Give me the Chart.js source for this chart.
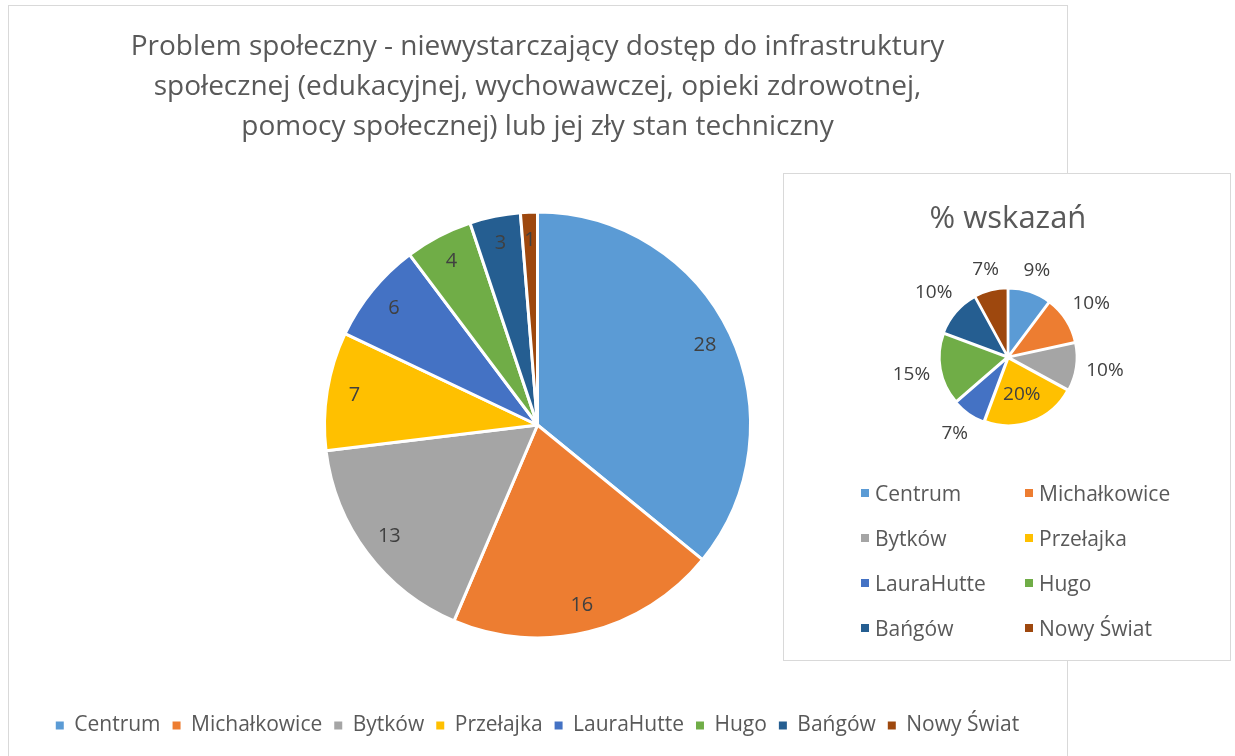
<!DOCTYPE html>
<html lang="pl">
<head>
<meta charset="utf-8">
<title>Problem społeczny</title>
<script src="https://cdn.jsdelivr.net/npm/chart.js@4/dist/chart.umd.min.js"></script>
<style>
    html, body {
        margin: 0;
        padding: 0;
        background: #fff;
        width: 1235px;
        height: 756px;
        overflow: hidden;
        font-family: "Open Sans", sans-serif;
    }
    .main-box {
        position: absolute;
        left: 8px;
        top: 5px;
        width: 1058px;
        height: 800px;
        border: 1px solid #d9d9d9;
        background: #fff;
    }
    .main-box canvas {
        position: absolute;
        left: 0;
        top: 0;
    }
    .share-box {
        position: absolute;
        left: 783px;
        top: 173px;
        width: 446px;
        height: 486px;
        border: 1px solid #d9d9d9;
        background: #fff;
    }
    .share-box canvas {
        position: absolute;
        left: 0;
        top: 0;
    }
    .share-legend {
        position: absolute;
        left: 77px;
        top: 296px;
        display: grid;
        grid-template-columns: 164px 164px;
        grid-auto-rows: 45px;
        font-size: 21px;
        color: #595959;
    }
    .share-legend span {
        display: flex;
        align-items: center;
        white-space: nowrap;
    }
    .share-legend i {
        display: inline-block;
        width: 8px;
        height: 8px;
        margin-right: 6px;
    }
</style>
</head>
<body>

<div class="main-box">
    <canvas id="count-chart" width="1057" height="750"></canvas>
</div>

<div class="share-box">
    <canvas id="share-chart" width="446" height="486"></canvas>
    <div class="share-legend" id="share-legend"></div>
</div>

<script>
'use strict';

// Districts (same order in both charts)
const districts = ['Centrum', 'Michałkowice', 'Bytków', 'Przełajka', 'LauraHutte', 'Hugo', 'Bańgów', 'Nowy Świat'];

// Number of answers per district
const answerCounts = [28, 16, 13, 7, 6, 4, 3, 1];

// "% wskazań" per district, as printed on the small chart
const sharePercents = [9, 10, 10, 20, 7, 15, 10, 7];

const mainTitle = [
    'Problem społeczny - niewystarczający dostęp do infrastruktury',
    'społecznej (edukacyjnej, wychowawczej, opieki zdrowotnej,',
    'pomocy społecznej) lub jej zły stan techniczny'
];
const shareTitle = '% wskazań';

// Office palette
const sliceColors = ['#5B9BD5', '#ED7D31', '#A5A5A5', '#FFC000', '#4472C4', '#70AD47', '#255E91', '#9E480E'];

const FONT = '"Open Sans", sans-serif';

// Draws the value of each slice, inside or just outside the slice
const sliceLabels = {
    id: 'sliceLabels',
    afterDatasetsDraw: function(chart, args, opts) {
        const meta = chart.getDatasetMeta(0);
        const values = chart.data.datasets[0].data;
        const maxValue = Math.max.apply(null, values);
        const ctx = chart.ctx;

        ctx.save();
        ctx.font = opts.size + 'px ' + FONT;
        ctx.fillStyle = opts.color;
        ctx.textAlign = 'center';
        ctx.textBaseline = 'middle';

        meta.data.forEach(function(arc, i) {
            const p = arc.getProps(['x', 'y', 'startAngle', 'endAngle', 'outerRadius'], true);
            const mid = (p.startAngle + p.endAngle) / 2;
            const text = opts.format(values[i]);
            const outer = p.outerRadius + (opts.offset || 0);
            let dist;

            if (opts.position === 'inside') {
                dist = outer * opts.insideRatio;
            } else if (values[i] === maxValue) {
                // the biggest slice keeps its label inside
                dist = outer * opts.insideRatio;
            } else {
                const w = ctx.measureText(text).width;
                dist = outer + opts.gap +
                    Math.abs(Math.cos(mid)) * w / 2 +
                    Math.abs(Math.sin(mid)) * opts.size / 2;
            }

            ctx.fillText(text, p.x + Math.cos(mid) * dist, p.y + Math.sin(mid) * dist);
        });

        ctx.restore();
    }
};

// Main chart: number of answers
const initCountChart = function() {
    const ctx = document.getElementById('count-chart');

    new Chart(ctx, {
        type: 'pie',
        data: {
            labels: districts,
            datasets: [{
                data: answerCounts,
                backgroundColor: sliceColors,
                borderColor: '#ffffff',
                borderWidth: 3
            }]
        },
        plugins: [sliceLabels],
        options: {
            responsive: false,
            animation: false,
            events: [],
            radius: 213,
            layout: {
                padding: { top: 0, bottom: 10, left: 0, right: 0 }
            },
            plugins: {
                title: {
                    display: true,
                    text: mainTitle,
                    color: '#595959',
                    font: { family: FONT, size: 28, weight: 'normal', lineHeight: 40 / 28 },
                    padding: { top: 21, bottom: 0 }
                },
                legend: {
                    position: 'bottom',
                    labels: {
                        color: '#595959',
                        font: { family: FONT, size: 21 },
                        boxWidth: 8,
                        boxHeight: 8,
                        padding: 12,
                        generateLabels: function(chart) {
                            const items = Chart.overrides.pie.plugins.legend.labels.generateLabels(chart);
                            items.forEach(function(item) {
                                item.lineWidth = 0;
                            });
                            return items;
                        }
                    }
                },
                tooltip: { enabled: false },
                sliceLabels: {
                    position: 'inside',
                    insideRatio: 0.87,
                    size: 20,
                    color: '#404040',
                    format: function(v) { return String(v); }
                }
            }
        }
    });
};

// Small chart: % of answers, exploded slices
const initShareChart = function() {
    const ctx = document.getElementById('share-chart');

    new Chart(ctx, {
        type: 'pie',
        data: {
            labels: districts,
            datasets: [{
                data: sharePercents,
                backgroundColor: sliceColors,
                borderColor: '#ffffff',
                borderWidth: 2,
                offset: 5
            }]
        },
        plugins: [sliceLabels],
        options: {
            responsive: false,
            animation: false,
            events: [],
            radius: 67,
            layout: {
                padding: { top: 0, bottom: 184, left: 2, right: 0 }
            },
            plugins: {
                title: {
                    display: true,
                    text: shareTitle,
                    color: '#595959',
                    font: { family: FONT, size: 31, weight: 'normal', lineHeight: 1.2 },
                    padding: { top: 27, bottom: 0 }
                },
                legend: { display: false },
                tooltip: { enabled: false },
                sliceLabels: {
                    position: 'outside',
                    insideRatio: 0.55,
                    offset: 5,
                    gap: 6,
                    size: 19,
                    color: '#404040',
                    format: function(v) { return v + '%'; }
                }
            }
        }
    });

    // Two-column legend like the original
    const legend = document.getElementById('share-legend');
    districts.forEach(function(name, i) {
        const item = document.createElement('span');
        const box = document.createElement('i');
        box.style.background = sliceColors[i];
        item.appendChild(box);
        item.appendChild(document.createTextNode(name));
        legend.appendChild(item);
    });
};

initCountChart();
initShareChart();
</script>
</body>
</html>
